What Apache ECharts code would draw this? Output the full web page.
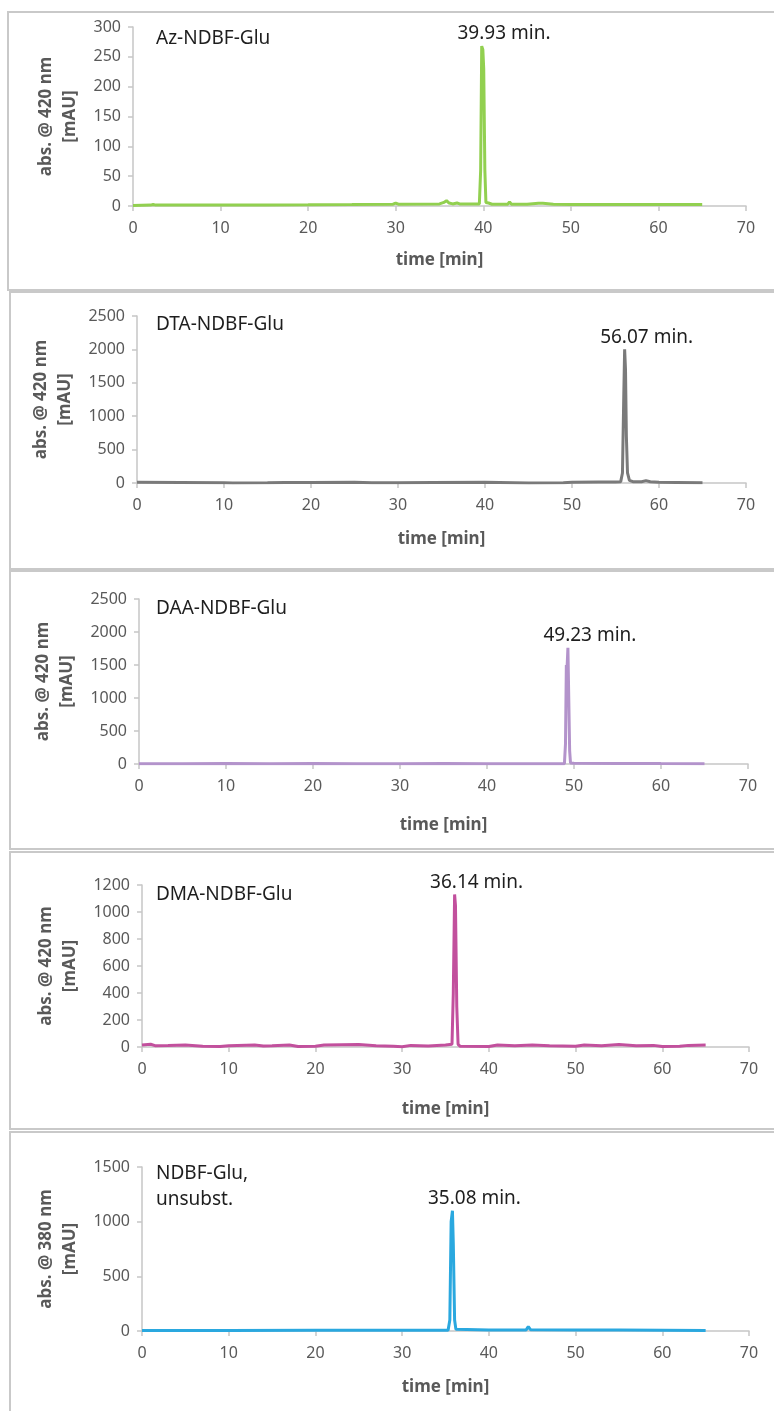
<!DOCTYPE html>
<html>
<head>
<meta charset="utf-8">
<script src="https://cdn.jsdelivr.net/npm/echarts@6/dist/echarts.min.js"></script>
<style>
html,body{margin:0;padding:0;background:#fff;}
#chart{width:774px;height:1411px;}
</style>
</head>
<body>
<div id="chart"></div>
<script>
// ---- data (time [min], absorbance [mAU]) ----
const sampleNames = ['Az-NDBF-Glu', 'DTA-NDBF-Glu', 'DAA-NDBF-Glu', 'DMA-NDBF-Glu', 'NDBF-Glu,\nunsubst.'];
const yAxisNames = ['abs. @ 420 nm\n[mAU]', 'abs. @ 420 nm\n[mAU]', 'abs. @ 420 nm\n[mAU]', 'abs. @ 420 nm\n[mAU]', 'abs. @ 380 nm\n[mAU]'];
const xTicks = [0, 10, 20, 30, 40, 50, 60, 70];
const yMax = [300, 2500, 2500, 1200, 1500];
const yStep = [50, 500, 500, 200, 500];
const peakLabels = [
  [39.85, 268, '39.93 min.'],
  [56.05, 2000, '56.07 min.'],
  [49.3, 1760, '49.23 min.'],
  [36.05, 1130, '36.14 min.'],
  [35.8, 1100, '35.08 min.']
];

const azData = [[0,1],[2,1.5],[2.3,2.5],[2.6,1.5],[4,1.5],[7,1.5],[7.2,3],[7.4,1.5],[10,1.5],[15,1.8],[20,2],[25,2.5],[29.7,3],[30,5],[30.3,3],[35,3.5],[35.5,6],[35.8,9],[36.1,5],[36.5,3.5],[37,5],[37.3,3.5],[39.55,3.5],[39.7,60],[39.82,268],[39.95,262],[40.05,230],[40.18,60],[40.3,6],[40.6,5],[41,3],[42.8,3],[43,7],[43.2,3],[45,3],[46.3,4.5],[46.8,4.5],[48,3],[50,2.5],[55,2.5],[60,2.5],[65,2.5]];
const dtaData = [[0,10],[5,8],[10,5],[11,0],[15,2],[17,8],[20,8],[25,10],[27,5],[30,3],[34,8],[40,10],[45,0],[49,3],[50,10],[53,15],[55,15],[55.6,20],[55.8,150],[55.95,1300],[56.05,2000],[56.15,1700],[56.25,700],[56.38,150],[56.6,40],[57,20],[58,20],[58.5,35],[59,18],[60,10],[62,8],[65,5]];
const daaData = [[0,5],[5,5],[10,6],[15,5],[20,6],[25,5],[30,5],[35,6],[40,5],[45,5],[48.9,5],[49.02,300],[49.12,1500],[49.2,1450],[49.3,1760],[49.38,1740],[49.5,200],[49.6,15],[50,10],[55,8],[60,6],[65,5]];
const dmaData = [[0,15],[1,20],[1.5,10],[3,12],[5,15],[7,5],[9,3],[10,10],[13,15],[14,8],[15,10],[17,15],[18,3],[20,5],[21,15],[25,18],[27,10],[29,5],[30,2],[31,12],[33,8],[35,15],[35.75,20],[35.9,400],[36.05,1130],[36.15,1050],[36.3,300],[36.45,20],[36.7,5],[40,3],[41,15],[43,10],[45,15],[47,10],[50,5],[51,15],[53,10],[55,18],[57,10],[59,12],[60,3],[62,5],[63,12],[65,15]];
const ndbfData = [[0,5],[3.3,5],[3.5,12],[3.8,5],[10,5],[20,8],[30,8],[35.3,8],[35.5,100],[35.65,1000],[35.8,1100],[35.9,800],[36.05,100],[36.2,15],[40,10],[44.3,10],[44.55,40],[44.8,12],[50,10],[55,10],[60,8],[65,5]];
const seriesData = [azData, dtaData, daaData, dmaData, ndbfData];
const colors = ['#92d050', '#7a7a7a', '#b393cb', '#c2509d', '#2aa8df'];

// ---- layout (pixels) ----
const grids = [
  {left: 133, right: 28, top: 27, height: 179},
  {left: 137, right: 28, top: 316, height: 167},
  {left: 139, right: 26, top: 599, height: 165},
  {left: 142, right: 25, top: 885, height: 162},
  {left: 142, right: 25, top: 1167, height: 164}
];
const xNameGaps = [46, 48, 53, 54, 48];
const yNameGaps = [50, 54, 56, 58, 60];
const titleTops = [26, 312, 596, 882, 1161];
const boxes = [[8, 12, 278], [10, 292, 277], [10, 571, 278], [10, 852, 277], [10, 1132, 300]];

const FONT = 'Noto Sans';
const axisGrey = '#c6c6c6';
const textGrey = '#595959';

const option = {
  animation: false,
  backgroundColor: '#fff',
  textStyle: {fontFamily: FONT},
  graphic: boxes.map(b => ({
    type: 'rect', silent: true, z: -1,
    shape: {x: b[0], y: b[1], width: 800, height: b[2]},
    style: {fill: 'none', stroke: '#c9c9c9', lineWidth: 2}
  })),
  title: sampleNames.map((n, i) => ({
    text: n, left: 156, top: titleTops[i], padding: 0,
    textStyle: {fontFamily: FONT, fontSize: 19, fontWeight: 'normal', color: '#1e1e1e', lineHeight: 26}
  })),
  grid: grids.map(g => Object.assign({containLabel: false}, g)),
  xAxis: grids.map((g, i) => ({
    type: 'value', gridIndex: i, min: xTicks[0], max: xTicks[xTicks.length - 1], interval: 10,
    name: 'time [min]', nameLocation: 'middle', nameGap: xNameGaps[i],
    nameTextStyle: {fontFamily: FONT, fontSize: 17, fontWeight: 'bold', color: textGrey},
    axisLine: {show: true, onZero: false, lineStyle: {color: axisGrey, width: 1.5}},
    axisTick: {show: true, length: 5, lineStyle: {color: axisGrey, width: 1.5}},
    axisLabel: {fontFamily: FONT, fontSize: 16, color: textGrey, margin: 14, formatter: v => String(v)},
    splitLine: {show: false}
  })),
  yAxis: grids.map((g, i) => ({
    type: 'value', gridIndex: i, min: 0, max: yMax[i], interval: yStep[i],
    name: yAxisNames[i], nameLocation: 'middle', nameGap: yNameGaps[i], nameRotate: 90,
    nameTextStyle: {fontFamily: FONT, fontSize: 17, fontWeight: 'bold', color: textGrey, lineHeight: 24, align: 'center'},
    axisLine: {show: true, lineStyle: {color: axisGrey, width: 1.5}},
    axisTick: {show: true, length: 5, lineStyle: {color: axisGrey, width: 1.5}},
    axisLabel: {fontFamily: FONT, fontSize: 16, color: textGrey, margin: 12, formatter: v => String(v)},
    splitLine: {show: false}
  })),
  series: seriesData.map((d, i) => ({
    type: 'line', xAxisIndex: i, yAxisIndex: i, data: d,
    showSymbol: false, symbol: 'none',
    lineStyle: {color: colors[i], width: 3},
    itemStyle: {color: colors[i]},
    markPoint: {
      symbol: 'circle', symbolSize: 0, silent: true,
      data: [{coord: [peakLabels[i][0], peakLabels[i][1]], value: peakLabels[i][2]}],
      label: {show: true, position: 'inside', offset: [22, -12], formatter: peakLabels[i][2],
              fontFamily: FONT, fontSize: 19, color: '#1e1e1e'}
    }
  }))
};

const chart = echarts.init(document.getElementById('chart'), null, {renderer: 'canvas'});
chart.setOption(option);
</script>
</body>
</html>
